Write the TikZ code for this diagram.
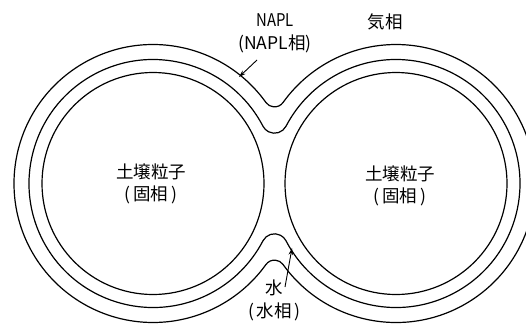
\documentclass[tikz,border=0pt]{standalone}
\usepackage{fontspec}
\setmainfont{Noto Sans CJK JP}
\usetikzlibrary{arrows.meta}

% Outline of one film around both grains: two circles of radius #1 about the
% grain centres, joined at the neck by fillet arcs of radius #2.
\newcommand\filmoutline[2]{%
  \pgfmathsetmacro\filmR{#1}%
  \pgfmathsetmacro\filmF{#2}%
  \pgfmathsetmacro\filmA{acos(121.5/(\filmR+\filmF))}%
  \draw[boundary] (grainL) ++(\filmA:\filmR pt)
    arc[start angle=\filmA, end angle=360-\filmA, radius=\filmR pt]
    arc[start angle=180-\filmA, end angle=\filmA, radius=\filmF pt]
    arc[start angle=180+\filmA, end angle=540-\filmA, radius=\filmR pt]
    arc[start angle=360-\filmA, end angle=180+\filmA, radius=\filmF pt]
    -- cycle;
}

\begin{document}
\begin{tikzpicture}[x=1pt,y=1pt,
  boundary/.style={line width=1.2pt, line join=round},
  lbl/.style={font=\fontsize{17.5}{22.5}\selectfont, align=center, inner sep=0pt},
  pointer/.style={line width=0.9pt, -{Stealth[length=7pt,width=4.5pt]}}]
\useasboundingbox (0,0) rectangle (526,325);
\clip (0,0) rectangle (526,325);

% grain centres
\coordinate (grainL) at (153,141.5);
\coordinate (grainR) at (396,141.5);

% soil grains
\draw[boundary] (grainL) circle[radius=111pt];
\draw[boundary] (grainR) circle[radius=111pt];

% water film and NAPL film
\filmoutline{124}{13}
\filmoutline{139}{10.5}

% labels
\node[lbl] (soilL) at (151,141) {土壌粒子\\(\,固相\,)};
\node[lbl] (soilR) at (400,139) {土壌粒子\\(\,固相\,)};
\node[lbl] (napl) at (275,291.5) {\scalebox{0.85}[1]{NAPL}\\(NAPL相)};
\node[lbl] (gas) at (385,303) {気相};
\node[lbl] (water) at (274.5,24.5) {水\\(\,水相\,)};

% pointers
\coordinate (naplTail) at (257,265);
\coordinate (naplTip) at (239,248);
\coordinate (waterTail) at (285,38);
\coordinate (waterTip) at (292,77);
\draw[pointer] (naplTail) -- (naplTip);
\draw[pointer] (waterTail) -- (waterTip);
\end{tikzpicture}
\end{document}
